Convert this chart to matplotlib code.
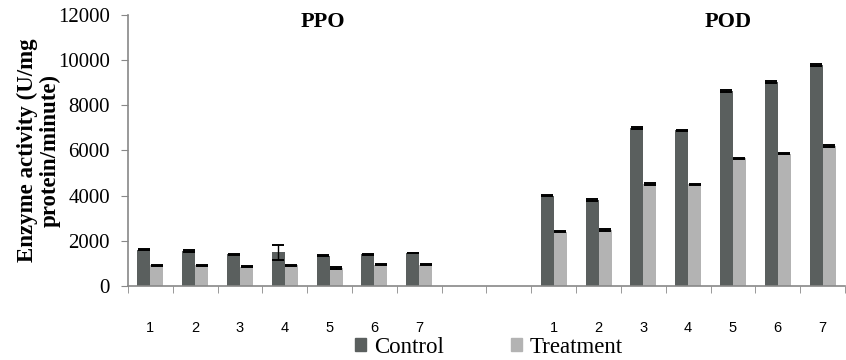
import matplotlib
matplotlib.use("Agg")
import matplotlib.pyplot as plt
import numpy as np
from matplotlib.patches import Patch
from matplotlib.font_manager import FontProperties

days = ["1", "2", "3", "4", "5", "6", "7"]
ppo_control = [1600, 1550, 1400, 1500, 1330, 1400, 1460]
ppo_control_err = [20, 30, 20, 330, 20, 20, 20]
ppo_treatment = [920, 920, 860, 920, 800, 950, 950]
ppo_treatment_err = [20, 20, 25, 20, 40, 40, 40]
pod_control = [4000, 3820, 7000, 6900, 8620, 9050, 9800]
pod_control_err = [20, 40, 50, 20, 40, 40, 40]
pod_treatment = [2410, 2480, 4530, 4500, 5660, 5860, 6200]
pod_treatment_err = [20, 40, 40, 20, 20, 20, 40]
series_names = ["Control", "Treatment"]
groups = ["PPO", "POD"]

c_dark = "#5a5f5e"
c_light = "#b3b3b3"
serif = ["Liberation Serif", "DejaVu Serif"]

fig = plt.figure(figsize=(8.46, 3.6), dpi=100)
ax = fig.add_axes([0.1513, 0.2056, 0.8475, 0.7528])

n = len(days)
gap = 2
pos_ppo = np.arange(n)
pos_pod = np.arange(n) + n + gap
w = 0.29
ekw = dict(ecolor="black", capsize=4.5, elinewidth=1.0, capthick=1.4)

for pos, c, ce, t, te in [(pos_ppo, ppo_control, ppo_control_err, ppo_treatment, ppo_treatment_err),
                          (pos_pod, pod_control, pod_control_err, pod_treatment, pod_treatment_err)]:
    ax.bar(pos - w / 2, c, w, color=c_dark, yerr=ce, error_kw=ekw, zorder=2)
    ax.bar(pos + w / 2, t, w, color=c_light, yerr=te, error_kw=ekw, zorder=2)

total = 2 * n + gap
ax.set_xlim(-0.5, total - 0.5)
ax.set_ylim(0, 12000)
ax.set_yticks(np.arange(0, 12001, 2000))
ax.set_yticklabels([str(v) for v in range(0, 12001, 2000)], family=serif, fontsize=15)

ax.set_xticks(list(pos_ppo) + list(pos_pod))
ax.set_xticklabels(days + days, family=["Liberation Sans", "DejaVu Sans"], fontsize=10.5)
ax.tick_params(axis="x", which="major", length=0, pad=25)
ax.set_xticks(np.arange(-0.5, total, 1.0), minor=True)
ax.tick_params(axis="x", which="minor", length=5, direction="out", color="#888888")
ax.tick_params(axis="y", length=5, direction="out", color="#888888", pad=8)

for s in ["top", "right"]:
    ax.spines[s].set_visible(False)
for s in ["left", "bottom"]:
    ax.spines[s].set_color("#888888")
    ax.spines[s].set_linewidth(1.2)

ax.set_ylabel("Enzyme activity (U/mg\nprotein/minute)", family=serif, fontsize=16.5,
              fontweight="bold", linespacing=1.1, labelpad=-2)

ax.text(0.272, 0.975, groups[0], transform=ax.transAxes, ha="center", va="center",
        family=serif, fontsize=16, fontweight="bold")
ax.text(0.837, 0.975, groups[1], transform=ax.transAxes, ha="center", va="center",
        family=serif, fontsize=16, fontweight="bold")

handles = [Patch(color=c_dark), Patch(color=c_light)]
fig.legend(handles, series_names, loc="center", bbox_to_anchor=(0.578, 0.035), ncol=2,
           frameon=False, prop=FontProperties(family="Liberation Serif", size=16.5), handlelength=0.5,
           handleheight=0.5, handletextpad=0.35, columnspacing=2.9, borderpad=0)

fig.savefig("out.png", dpi=100)
